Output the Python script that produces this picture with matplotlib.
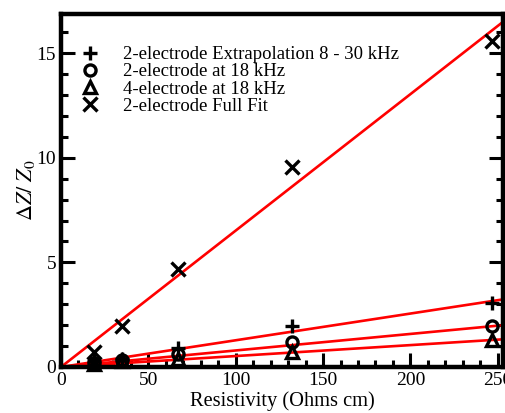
import matplotlib
matplotlib.use('Agg')
import matplotlib.pyplot as plt
import numpy as np
from matplotlib.ticker import MultipleLocator

plt.rcParams['font.family'] = ['Liberation Serif', 'DejaVu Serif']
plt.rcParams['mathtext.fontset'] = 'stix'

# resistivity of the samples (Ohms cm)
resistivity = [19, 35, 67, 132, 247]

# dZ/Z0 for each method
extrap_2e = [0.30, 0.40, 0.90, 1.98, 3.05]
at18_2e = [0.20, 0.35, 0.60, 1.21, 1.96]
at18_4e = [0.15, 0.30, 0.38, 0.70, 1.30]
fullfit_2e = [0.73, 1.98, 4.68, 9.58, 15.58]

labels = ['2-electrode Extrapolation 8 - 30 kHz', '2-electrode at 18 kHz',
          '4-electrode at 18 kHz', '2-electrode Full Fit']
markers = ['+', 'o', '^', 'x']

# slopes of the linear fits through the origin
fit_slopes = [0.01277, 0.0079, 0.00523, 0.0652]

fig = plt.figure(figsize=(5.06, 4.13), dpi=100)
ax = fig.add_axes([0.1206, 0.1114, 0.8734, 0.8546])

xfit = np.array([0, 253])
for s in fit_slopes:
    ax.plot(xfit, s * xfit, color='red', lw=1.9, zorder=2)

series = [extrap_2e, at18_2e, at18_4e, fullfit_2e]
for vals, m, lab in zip(series, markers, labels):
    ms = 10 if m in ['+', 'x'] else 8
    ax.plot(resistivity, vals, linestyle='none', marker=m, markersize=ms,
            markerfacecolor='none', markeredgecolor='black',
            markeredgewidth=2.4, label=lab, zorder=3, clip_on=False)

ax.set_xlim(0, 253)
ax.set_ylim(0, 16.87)
ax.xaxis.set_major_locator(MultipleLocator(50))
ax.xaxis.set_minor_locator(MultipleLocator(10))
ax.yaxis.set_major_locator(MultipleLocator(5))
ax.yaxis.set_minor_locator(MultipleLocator(1))
ax.tick_params(which='both', direction='in', right=True, top=False,
               labelsize=14, width=2.2)
ax.tick_params(which='major', length=10)
ax.tick_params(which='minor', length=5)
for sp in ax.spines.values():
    sp.set_linewidth(3.2)

ax.set_xlabel('Resistivity (Ohms cm)', fontsize=14.7, labelpad=2)
ax.set_ylabel(r'$\Delta Z/\ Z_0$', fontsize=16, labelpad=0)

ax.legend(loc='upper left', frameon=False, fontsize=13.5, handletextpad=1.2,
          labelspacing=0.0, borderaxespad=0.6, handlelength=1.2,
          bbox_to_anchor=(-0.003, 0.962))

fig.savefig('out.png', dpi=100)
